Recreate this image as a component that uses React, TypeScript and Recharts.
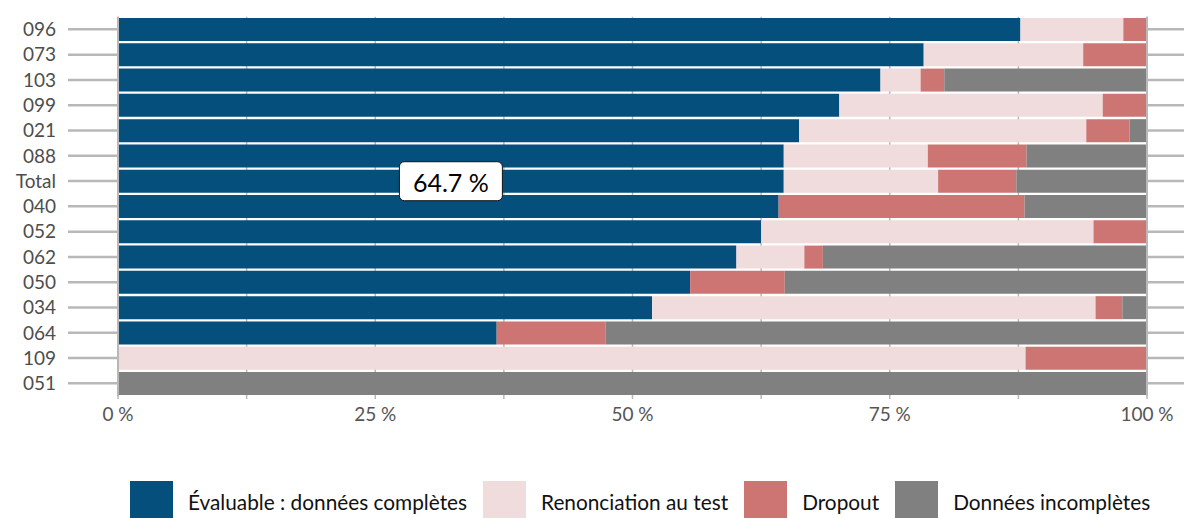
import React from 'react';
import { BarChart, Bar, XAxis, YAxis, CartesianGrid, LabelList, Legend } from 'recharts';

const categories = ['096', '073', '103', '099', '021', '088', 'Total', '040', '052', '062', '050', '034', '064', '109', '051'];
const evaluable = [87.7, 78.3, 74.1, 70.1, 66.2, 64.7, 64.7, 64.2, 62.5, 60.1, 55.6, 51.9, 36.8, 0, 0];
const renonciation = [10.0, 15.5, 3.9, 25.6, 27.9, 14.0, 15.0, 0, 32.3, 6.6, 0, 43.1, 0, 88.2, 0];
const dropout = [2.3, 6.2, 2.3, 4.3, 4.2, 9.6, 7.6, 23.9, 5.2, 1.8, 9.2, 2.6, 10.6, 11.8, 0];
const incompletes = [0, 0, 19.7, 0, 1.7, 11.7, 12.7, 11.9, 0, 31.5, 35.2, 2.4, 52.6, 0, 100];

const xTicks = [0, 12.5, 25, 37.5, 50, 62.5, 75, 87.5, 100];
const xLabels = ['0 %', '', '25 %', '', '50 %', '', '75 %', '', '100 %'];

const seriesNames = ['Évaluable : données complètes', 'Renonciation au test', 'Dropout', 'Données incomplètes'];
const seriesKeys = ['evaluable', 'renonciation', 'dropout', 'incompletes'];
const seriesColors = ['#044f7b', '#f0dcdc', '#cd7573', '#808080'];

const data = categories.map((name, i) => ({
  name,
  evaluable: evaluable[i],
  renonciation: renonciation[i],
  dropout: dropout[i],
  incompletes: incompletes[i],
}));

const FONT = 'Lato, "Noto Sans", sans-serif';
const GRID = '#b8b8b8';

const TotalLabel = (props: any) => {
  const { x, y, width, height, index, value } = props;
  if (categories[index] !== 'Total') return null;
  const cx = Number(x) + Number(width) / 2;
  const cy = Number(y) + Number(height) / 2;
  return (
    <g>
      <rect x={cx - 51.5} y={cy - 19.5} width={103} height={39} rx={5} ry={5} fill="#ffffff" stroke="#111" strokeWidth={1} />
      <text x={cx} y={cy + 1} textAnchor="middle" dominantBaseline="central" fontSize={25} fontFamily={FONT} fill="#000">
        {Number(value).toFixed(1)} %
      </text>
    </g>
  );
};

const LegendContent = () => (
  <div style={{ display: 'flex', justifyContent: 'flex-start', alignItems: 'center', fontFamily: FONT, fontSize: 20.8, color: '#111', height: 48, paddingLeft: 12, whiteSpace: 'nowrap' }}>
    {seriesNames.map((n, i) => (
      <div key={n} style={{ display: 'flex', alignItems: 'center', marginRight: i < 3 ? 16 : 0 }}>
        <div style={{ width: 43, height: 38, background: seriesColors[i], marginRight: 15, marginTop: 11 }} />
        <span style={{ marginTop: 14 }}>{n}</span>
      </div>
    ))}
  </div>
);

export default function App() {
  return (
    <div style={{ position: 'absolute', left: 0, top: 0, width: 1184, height: 518, background: '#fff' }}>
      <BarChart
        width={1184}
        height={518}
        data={data}
        layout="vertical"
        margin={{ top: 14.7, right: 0, bottom: 0, left: 0 }}
        barCategoryGap={1.3}
      >
        <CartesianGrid horizontal={false} stroke={GRID} strokeWidth={1.5} />
        <XAxis
          type="number"
          domain={[0, 100]}
          ticks={xTicks}
          tickFormatter={(v: number) => xLabels[xTicks.indexOf(v)]}
          axisLine={false}
          tickLine={{ stroke: GRID, strokeWidth: 1.5 }}
          tickSize={3}
          tickMargin={9}
          height={74}
          interval={0}
          tick={{ fill: '#555', fontSize: 19, fontFamily: FONT }}
        />
        <XAxis
          xAxisId="top"
          orientation="top"
          type="number"
          domain={[0, 100]}
          ticks={xTicks}
          tickFormatter={() => ''}
          axisLine={false}
          tickLine={{ stroke: GRID, strokeWidth: 1.5 }}
          tickSize={2}
          height={2}
          interval={0}
        />
        <YAxis
          type="category"
          dataKey="name"
          width={118}
          interval={0}
          axisLine={{ stroke: GRID, strokeWidth: 2 }}
          tickLine={{ stroke: GRID, strokeWidth: 2.5 }}
          tickSize={50}
          tickMargin={12}
          tick={{ fill: '#4d4d4d', fontSize: 19, fontFamily: FONT }}
        />
        <YAxis
          yAxisId="right"
          orientation="right"
          type="category"
          dataKey="name"
          width={37}
          interval={0}
          axisLine={{ stroke: GRID, strokeWidth: 2 }}
          tickLine={{ stroke: GRID, strokeWidth: 2.5 }}
          tickSize={40}
          tickFormatter={() => ''}
        />
        <Legend verticalAlign="bottom" height={48} content={<LegendContent />} wrapperStyle={{ left: 118, width: 1066 }} />
        {seriesKeys.map((k, i) => (
          <Bar key={k} dataKey={k} name={seriesNames[i]} stackId="a" fill={seriesColors[i]} isAnimationActive={false}>
            {i === 0 ? <LabelList dataKey={k} content={<TotalLabel />} /> : null}
          </Bar>
        ))}
      </BarChart>
    </div>
  );
}
